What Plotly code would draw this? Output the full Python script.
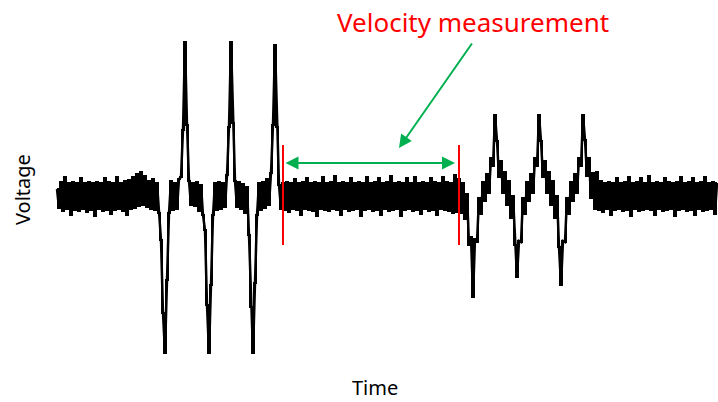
import plotly.graph_objects as go

# Sampled signal voltage (arbitrary units), one sample every 2 time units
voltage = [
    # t 0..92  baseline noise
    6, -13, 13, -16, 18, -14, 12, -20, 13, -15, 12, -16, 17, -14, 12, -17,
    13, -15, 12, -21, 13, -14, 12, -16, 17, -15, 13, -19, 12, -15, 18, -14,
    12, -16, 14, -20, 15, -14, 18, -13, 21, -11, 23, -10, 19, -12, 14,
    # t 94..226  transmitted pulses
    -14, 16, -15, 12, -18, -45, -118, -158, -85, -18, 14, -15, 12, -14, 16,
    18, 65, 153, 70, 14, -10, 12, -11, 13, -16, 10, -20, -35, -110, -158,
    -90, -20, 12, -15, 13, -14, 12, -12, 20, 68, 153, 72, 14, -12, 13, -14,
    11, -18, 8, -40, -112, -158, -88, -20, 12, -15, 13, -13, 16, -10, 22, 70,
    150, 68, 10, -14, 12,
    # t 228..400  baseline noise (transit)
    -15, 13, -17, 12, -14, 16, -15, 12, -20, 13, -14, 17, -15, 12, -16, 13,
    -21, 12, -14, 18, -15, 12, -16, 13, -14, 19, -15, 12, -20, 13, -14, 12,
    -16, 17, -15, 12, -14, 13, -21, 12, -15, 18, -14, 12, -16, 13, -15, 17,
    -20, 12, -14, 13, -16, 19, -15, 12, -14, 13, -21, 12, -15, 17, -14, 12,
    -16, 18, -15, 12, -19, 13, -14, 12, -16, 17, -15, 13, -20, 12, -14, 18,
    -15, 13, -16, 12, -18, 20, -17,
    # t 402..540  received pulses
    16, -18, 12, -24, 1, -50, -42, -102, -44, -47, -3, -19, 13, -6, 21, 2,
    37, 29, 80, 54, 18, 34, 2, 23, -10, 14, -23, -1, -50, -82, -46, -47, -3,
    -19, 13, -6, 21, 2, 37, 29, 80, 54, 18, 34, 2, 23, -10, 14, -23, -1, -52,
    -90, -46, -47, -3, -19, 13, -6, 21, 2, 37, 29, 80, 55, 19, 37, -3, 22,
    -14, 23,
    # t 542..660  baseline noise
    -15, 14, -17, 12, -14, 13, -20, 12, -15, 17, -14, 12, -16, 13, -15, 18,
    -21, 12, -14, 13, -16, 17, -15, 12, -14, 19, -15, 12, -20, 13, -14, 12,
    -16, 17, -15, 13, -14, 12, -21, 13, -15, 18, -14, 12, -16, 13, -15, 17,
    -20, 12, -14, 13, -16, 18, -15, 12, -14, 13, -19, 12,
]
time = [2 * i for i in range(len(voltage))]

# measurement window (time units) and marker extent (voltage units)
window_start = 226
window_end = 402
marker_low = -50
marker_high = 50
arrow_level = 32

label_title = "Velocity measurement"
label_x = "Time"
label_y = "Voltage"

RED = "#ff0000"
GREEN = "#00b050"

fig = go.Figure()
# sample-and-hold rendering underneath fills the noise band
fig.add_trace(go.Scatter(
    x=time, y=voltage, mode="lines",
    line=dict(color="black", width=2, shape="hvh"),
    hoverinfo="skip", showlegend=False,
))
# straight-line rendering on top keeps the pulses pointed
fig.add_trace(go.Scatter(
    x=time, y=voltage, mode="lines",
    line=dict(color="black", width=2.5),
    hoverinfo="skip", showlegend=False,
))

for xv in (window_start, window_end):
    fig.add_shape(type="line", x0=xv, x1=xv, y0=marker_low, y1=marker_high,
                  xref="x", yref="y", line=dict(color=RED, width=2))

# double-headed arrow between the markers
fig.add_annotation(x=window_end - 4, y=arrow_level, ax=window_start + 1, ay=arrow_level,
                   xref="x", yref="y", axref="x", ayref="y", text="",
                   showarrow=True, arrowside="end+start", arrowhead=2,
                   arrowsize=1.3, arrowwidth=2, arrowcolor=GREEN, standoff=0,
                   startstandoff=0)

# pointer arrow from the label
fig.add_annotation(x=342, y=47, ax=416, ay=153,
                   xref="x", yref="y", axref="x", ayref="y", text="",
                   showarrow=True, arrowhead=2, arrowsize=1.3, arrowwidth=2,
                   arrowcolor=GREEN, standoff=0)

fig.add_annotation(x=416, y=173, xref="x", yref="y", text=label_title,
                   showarrow=False, font=dict(family="Noto Sans", size=26, color=RED),
                   xanchor="center", yanchor="middle")
fig.add_annotation(x=318, xref="x", y=0, yref="paper", yshift=-1, text=label_x,
                   showarrow=False, font=dict(family="Noto Sans", size=20, color="black"),
                   xanchor="center", yanchor="bottom")
fig.add_annotation(x=-35, y=5, xref="x", yref="y", text=label_y, textangle=-90,
                   showarrow=False, font=dict(family="Noto Sans", size=20, color="black"),
                   xanchor="center", yanchor="middle")

fig.update_xaxes(visible=False, range=[-57, 661], fixedrange=True)
fig.update_yaxes(visible=False, range=[-207, 195], fixedrange=True)
fig.update_layout(
    width=718, height=402,
    margin=dict(l=0, r=0, t=0, b=0, pad=0),
    paper_bgcolor="white", plot_bgcolor="white",
    showlegend=False,
)

fig.write_html(
    "out.html",
    config={"displayModeBar": False},
    post_script="document.body.style.margin='0';document.body.style.padding='0';"
                "document.body.style.overflow='hidden';",
)
